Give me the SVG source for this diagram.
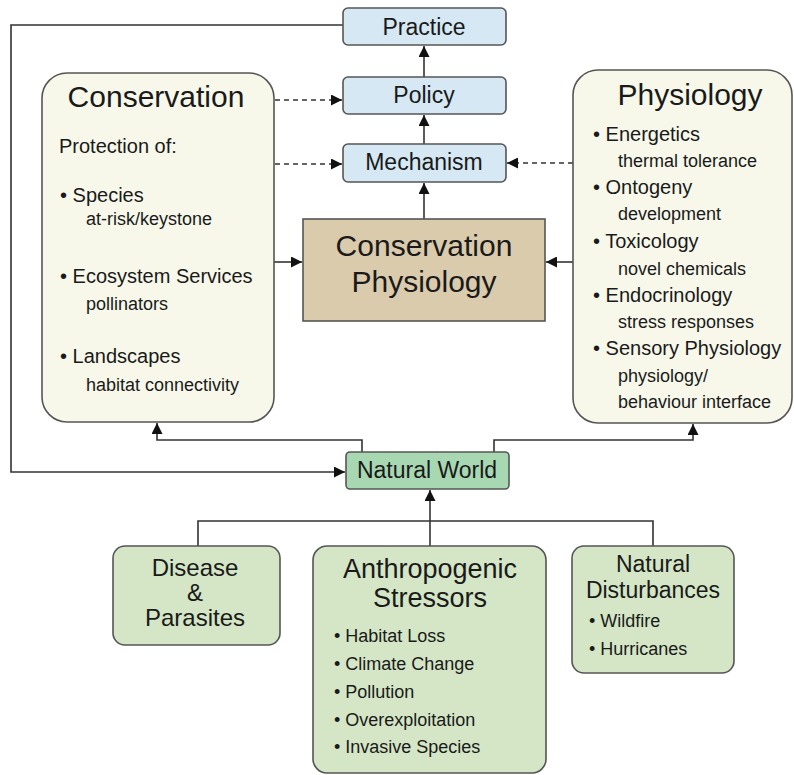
<svg xmlns="http://www.w3.org/2000/svg" width="794" height="775" viewBox="0 0 794 775">
<defs>
<marker id="ah" viewBox="0 0 10 10" refX="10" refY="5" markerWidth="11" markerHeight="11" markerUnits="userSpaceOnUse" orient="auto">
<path d="M0,0 L10,5 L0,10 z" fill="#111"/>
</marker>
</defs>
<style>
text{font-family:"Liberation Sans",Arial,sans-serif;fill:#1a1a1a}
.box{stroke:#555;stroke-width:1.6}
.blue{fill:#d5e8f3}
.cream{fill:#f7f8ea}
.tan{fill:#dacbac}
.nw{fill:#a8d8b2}
.grn{fill:#d4e6c5}
.t30{font-size:30px;text-anchor:middle}
.t23{font-size:23px;text-anchor:middle}
.t24{font-size:24px;text-anchor:middle}
.t27{font-size:27px;text-anchor:middle}
.i20{font-size:20px}
.i18{font-size:18px}
.con{fill:none;stroke:#333;stroke-width:1.6}
.dash{stroke-dasharray:5,4}
</style>
<rect width="794" height="775" fill="#fff"/>

<g id="connectors">
<path class="con" d="M343,25 H11 V472 H345" marker-end="url(#ah)"/>
<path class="con" d="M424,77 V46" marker-end="url(#ah)"/>
<path class="con" d="M424,144 V115" marker-end="url(#ah)"/>
<path class="con" d="M424,219 V183" marker-end="url(#ah)"/>
<path class="con dash" d="M275,100 H342" marker-end="url(#ah)"/>
<path class="con dash" d="M275,164 H342" marker-end="url(#ah)"/>
<path class="con dash" d="M573,163 H507" marker-end="url(#ah)"/>
<path class="con" d="M274,262 H302" marker-end="url(#ah)"/>
<path class="con" d="M573,262 H546" marker-end="url(#ah)"/>
<path class="con" d="M362,452 V440 H157 V423" marker-end="url(#ah)"/>
<path class="con" d="M494,452 V440 H693 V424" marker-end="url(#ah)"/>
<path class="con" d="M430,546 V490" marker-end="url(#ah)"/>
<path class="con" d="M198,546 V521 H653 V546"/>
</g>

<g id="practice">
<rect class="box blue" x="343" y="8" width="163" height="37" rx="5"/>
<text class="t23" x="424" y="35">Practice</text>
</g>
<g id="policy">
<rect class="box blue" x="343" y="77" width="163" height="37" rx="5"/>
<text class="t23" x="424" y="103">Policy</text>
</g>
<g id="mechanism">
<rect class="box blue" x="343" y="144" width="163" height="38" rx="5"/>
<text class="t23" x="424" y="170">Mechanism</text>
</g>

<g id="conservation">
<rect class="box cream" x="42" y="73" width="232" height="349" rx="25"/>
<text class="t30" x="156" y="107">Conservation</text>
<text class="i20" x="59" y="153">Protection of:</text>
<text class="i20" x="60" y="202">• Species</text>
<text class="i18" x="86" y="225">at-risk/keystone</text>
<text class="i20" x="60" y="283">• Ecosystem Services</text>
<text class="i18" x="86" y="310">pollinators</text>
<text class="i20" x="60" y="363">• Landscapes</text>
<text class="i18" x="86" y="391">habitat connectivity</text>
</g>

<g id="consphys">
<rect class="box tan" x="303" y="219" width="242" height="102"/>
<text class="t30" x="424" y="256">Conservation</text>
<text class="t30" x="424" y="292">Physiology</text>
</g>

<g id="physiology">
<rect class="box cream" x="573" y="70" width="219" height="353" rx="25"/>
<text class="t30" x="690" y="105">Physiology</text>
<text class="i20" x="593" y="141">• Energetics</text>
<text class="i18" x="618" y="167">thermal tolerance</text>
<text class="i20" x="593" y="194">• Ontogeny</text>
<text class="i18" x="618" y="220">development</text>
<text class="i20" x="593" y="248">• Toxicology</text>
<text class="i18" x="618" y="275">novel chemicals</text>
<text class="i20" x="593" y="302">• Endocrinology</text>
<text class="i18" x="618" y="328">stress responses</text>
<text class="i20" x="593" y="355">• Sensory Physiology</text>
<text class="i18" x="618" y="382">physiology/</text>
<text class="i18" x="618" y="408">behaviour interface</text>
</g>

<g id="naturalworld">
<rect class="box nw" x="346" y="452" width="163" height="37" rx="4"/>
<text class="t23" x="427" y="478">Natural World</text>
</g>

<g id="disease">
<rect class="box grn" x="113" y="546" width="167" height="99" rx="12"/>
<text class="t24" x="195" y="576">Disease</text>
<text class="t24" x="195" y="601">&amp;</text>
<text class="t24" x="195" y="626">Parasites</text>
</g>

<g id="anthropogenic">
<rect class="box grn" x="313" y="546" width="233" height="227" rx="14"/>
<text class="t27" x="430" y="578">Anthropogenic</text>
<text class="t27" x="430" y="607">Stressors</text>
<text class="i18" x="334" y="642">• Habitat Loss</text>
<text class="i18" x="334" y="670">• Climate Change</text>
<text class="i18" x="334" y="698">• Pollution</text>
<text class="i18" x="334" y="726">• Overexploitation</text>
<text class="i18" x="334" y="753">• Invasive Species</text>
</g>

<g id="naturaldist">
<rect class="box grn" x="572" y="546" width="162" height="127" rx="12"/>
<text class="t23" x="653" y="572">Natural</text>
<text class="t23" x="653" y="598">Disturbances</text>
<text class="i18" x="589" y="627">• Wildfire</text>
<text class="i18" x="589" y="655">• Hurricanes</text>
</g>
</svg>
